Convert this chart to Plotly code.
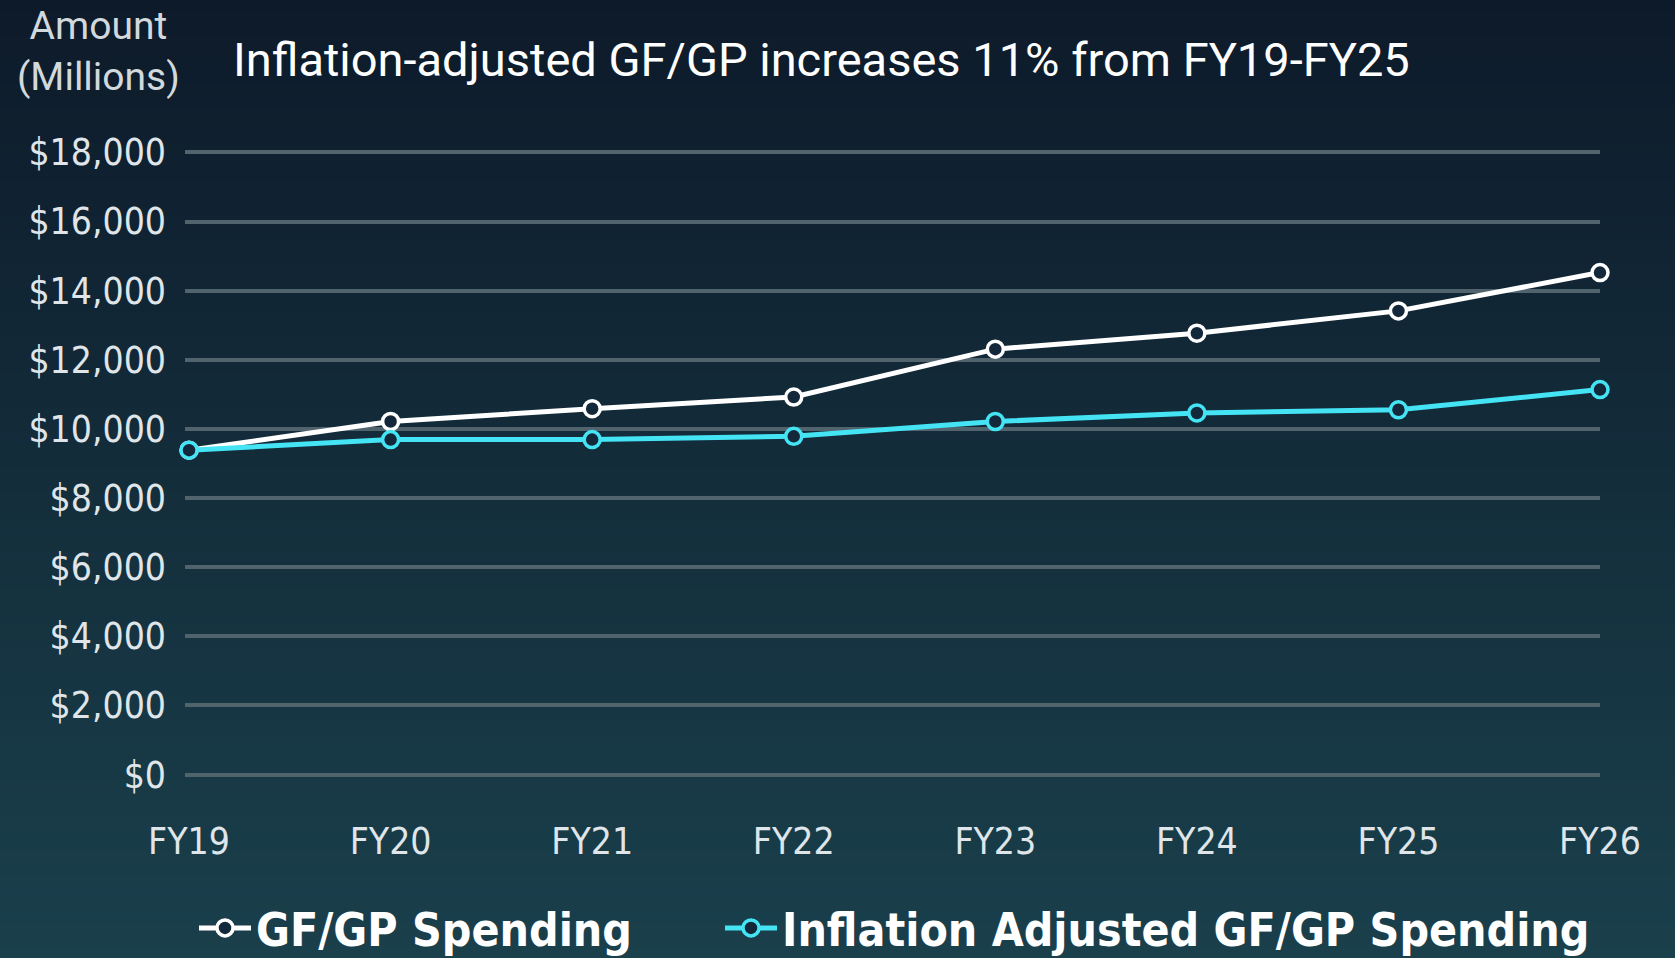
import plotly.graph_objects as go

years = ["FY19", "FY20", "FY21", "FY22", "FY23", "FY24", "FY25", "FY26"]
gfgp = [9385, 10215, 10585, 10923, 12308, 12769, 13415, 14523]
inflation_adj = [9385, 9692, 9692, 9785, 10215, 10462, 10554, 11138]
y_ticks = list(range(0, 18001, 2000))
y_tick_text = [f"${v:,}" for v in y_ticks]

W, H = 1675, 958
L, R, T, B = 185, 75, 151, 182
pw, ph = W - L - R, H - T - B

fig = go.Figure()

# background gradient (decorative stripes)
top_rgb = (13, 26, 42)
bot_rgb = (26, 64, 76)
n = 80
for i in range(n):
    f0, f1 = i / n, (i + 1) / n
    c = [round(top_rgb[k] + (bot_rgb[k] - top_rgb[k]) * (f0 + f1) / 2) for k in range(3)]
    y_top_px, y_bot_px = f0 * H, f1 * H + 1
    fig.add_shape(type="rect", xref="paper", yref="paper", layer="below",
                  x0=-L / pw - 0.01, x1=1 + R / pw + 0.01,
                  y0=1 - (y_bot_px - T) / ph, y1=1 - (y_top_px - T) / ph,
                  fillcolor=f"rgb({c[0]},{c[1]},{c[2]})", line_width=0)

fig.add_trace(go.Scatter(
    x=years, y=gfgp, name="GF/GP Spending", mode="lines+markers",
    line=dict(color="white", width=5),
    marker=dict(symbol="circle", size=16, color="#13283a", line=dict(color="white", width=3.5)),
    cliponaxis=False, legend="legend"))
fig.add_trace(go.Scatter(
    x=years, y=inflation_adj, name="Inflation Adjusted GF/GP Spending", mode="lines+markers",
    line=dict(color="#44e4f4", width=5),
    marker=dict(symbol="circle", size=16, color="#13283a", line=dict(color="#44e4f4", width=3.5)),
    cliponaxis=False, legend="legend2"))

legend_font = dict(family="DejaVu Sans Condensed", size=46, color="white", weight="bold")
tick_font = dict(family="DejaVu Sans Condensed", size=37, color="#dfe5e8")

fig.update_layout(
    width=W, height=H,
    margin=dict(l=L, r=R, t=T, b=B),
    paper_bgcolor="#12293a", plot_bgcolor="rgba(0,0,0,0)",
    showlegend=True,
    legend=dict(orientation="h", xref="container", yref="container", x=194 / W, y=30 / H,
                xanchor="left", yanchor="middle", font=legend_font,
                bgcolor="rgba(0,0,0,0)", itemwidth=52),
    legend2=dict(orientation="h", xref="container", yref="container", x=720 / W, y=30 / H,
                 xanchor="left", yanchor="middle", font=legend_font,
                 bgcolor="rgba(0,0,0,0)", itemwidth=52),
    xaxis=dict(type="category", range=[-0.02, 7], showgrid=False, zeroline=False, showline=False,
               tickfont=tick_font, ticklabelstandoff=40, ticks=""),
    yaxis=dict(range=[-40, 18040], tickvals=y_ticks, ticktext=y_tick_text,
               showgrid=True, gridcolor="#51636d", gridwidth=3.5, zeroline=False, showline=False,
               tickfont=tick_font, ticklabelstandoff=18, ticks=""),
    annotations=[
        dict(text="Amount<br>(Millions)", xref="paper", yref="paper",
             x=(98 - L) / pw, y=1 - (51 - T) / ph, xanchor="center", yanchor="middle",
             showarrow=False, align="center",
             font=dict(family="Roboto", size=39, color="#d2d9dd")),
        dict(text="Inflation-adjusted GF/GP increases 11% from FY19-FY25", xref="paper", yref="paper",
             x=(231 - L) / pw, y=1 - (59 - T) / ph, xanchor="left", yanchor="middle",
             showarrow=False, font=dict(family="Roboto", size=47, color="white")),
    ],
)

fig.write_html("out.html", post_script="document.body.style.margin='0';",
               config={"displayModeBar": False})
